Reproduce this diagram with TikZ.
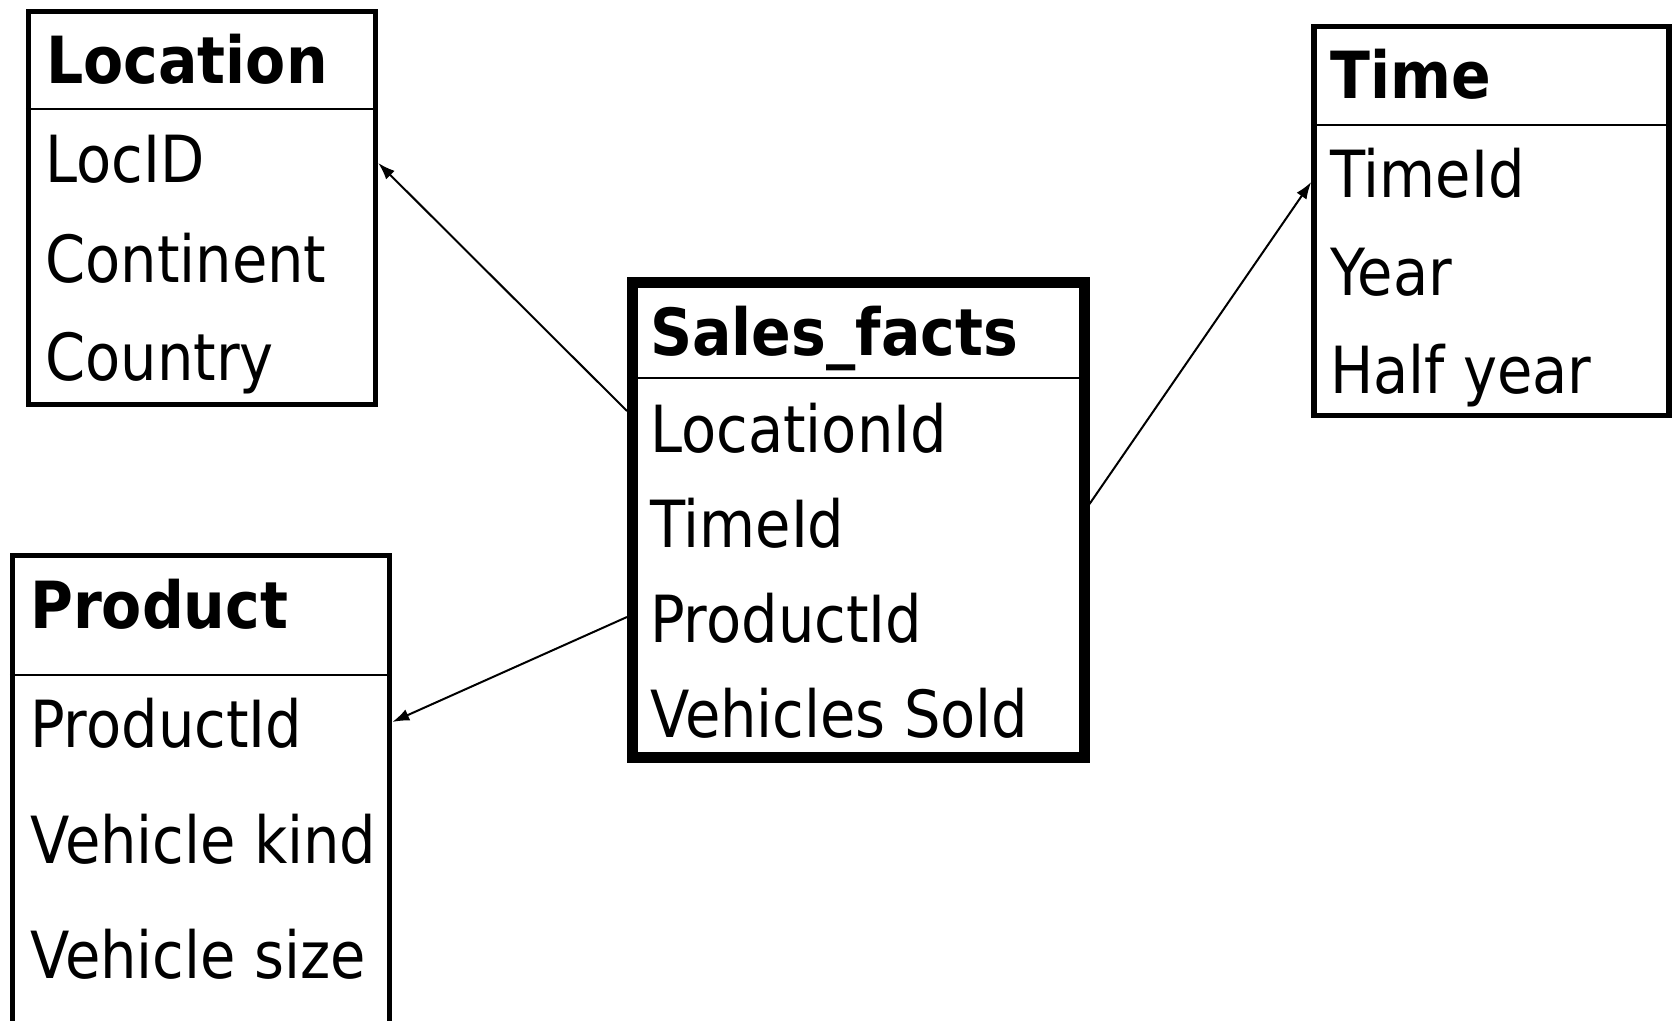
\documentclass[tikz,border=0pt]{standalone}
\usepackage{fontspec}
\setmainfont{DejaVu Sans}[FakeStretch=0.885, BoldFeatures={FakeStretch=0.90}]
\usetikzlibrary{arrows.meta}
\begin{document}
\begin{tikzpicture}[x=1pt,y=-1pt,
  tbl/.style={draw, line width=5.5pt, inner sep=0pt, anchor=center},
  facttbl/.style={tbl, line width=11pt},
  sepline/.style={line width=2.5pt},
  title/.style={anchor=base west, inner sep=0pt, font=\fontsize{65}{78}\selectfont\bfseries},
  fld/.style={anchor=base west, inner sep=0pt, font=\fontsize{65}{78}\selectfont},
  conn/.style={line width=2pt, -{Latex[length=17pt,width=12pt]}}]
\clip (0,0) rectangle (1673,1020);
\fill[white] (0,0) rectangle (1673,1020);

% dimension table: Location
\node[tbl, minimum width=347pt, minimum height=393pt] (loc) at (202,208) {};
\draw[sepline] (loc.west |- 0,109) -- (loc.east |- 0,109);
\node[title] (locT) at (46,83) {Location};
\node[fld] (locA) at (45,182) {LocID};
\node[fld] (locB) at (45,282) {Continent};
\node[fld] (locC) at (45,380) {Country};

% dimension table: Time
\node[tbl, minimum width=355pt, minimum height=389pt] (tim) at (1491.5,221) {};
\draw[sepline] (tim.west |- 0,125) -- (tim.east |- 0,125);
\node[title] (timT) at (1330,98) {Time};
\node[fld] (timA) at (1330,197) {TimeId};
\node[fld] (timB) at (1330,295) {Year};
\node[fld] (timC) at (1330,393) {Half year};

% dimension table: Product
\node[tbl, minimum width=377pt, minimum height=504.5pt] (prd) at (201,807.75) {};
\draw[sepline] (prd.west |- 0,675) -- (prd.east |- 0,675);
\node[title] (prdT) at (30,628) {Product};
\node[fld] (prdA) at (30,747) {ProductId};
\node[fld] (prdB) at (30,863) {Vehicle kind};
\node[fld] (prdC) at (30,978) {Vehicle size};

% fact table: Sales_facts
\node[facttbl, minimum width=451.5pt, minimum height=475pt] (sal) at (858.25,520) {};
\draw[sepline] (sal.west |- 0,378) -- (sal.east |- 0,378);
\node[title] (salT) at (650,355) {Sales\_facts};
\node[fld] (salA) at (650,452) {LocationId};
\node[fld] (salB) at (650,547) {TimeId};
\node[fld] (salC) at (650,642) {ProductId};
\node[fld] (salD) at (650,737) {Vehicles Sold};

% foreign keys
\draw[conn] (sal.west |- 0,411) -- (loc.east |- 0,163);
\draw[conn] (sal.east |- 0,504) -- (tim.west |- 0,182);
\draw[conn] (sal.west |- 0,617) -- (prd.east |- 0,722);
\end{tikzpicture}
\end{document}
